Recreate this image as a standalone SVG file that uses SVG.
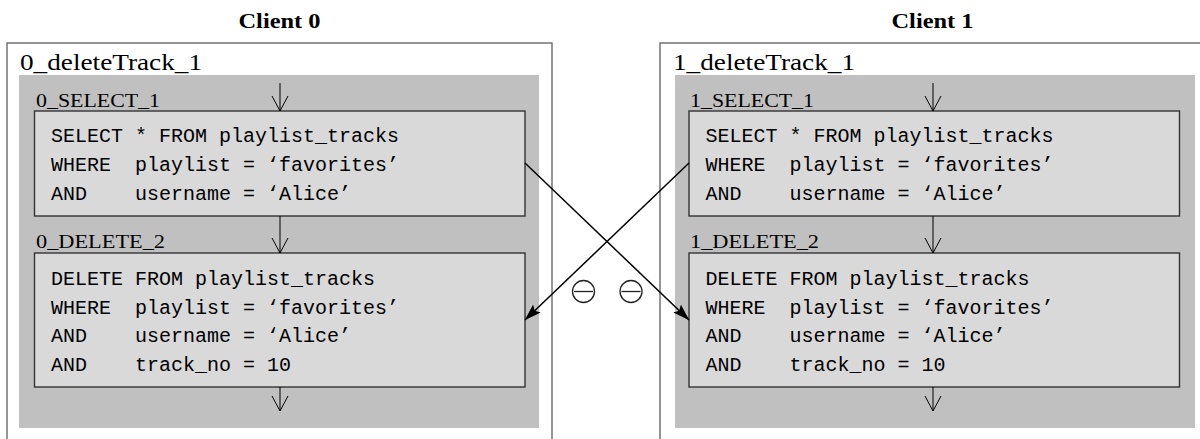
<svg xmlns="http://www.w3.org/2000/svg" width="1200" height="439" viewBox="0 0 1200 439">
  <style>
    .title { font-family: "Liberation Serif", serif; font-weight: bold; font-size: 20px; text-anchor: middle; fill: #000; }
    .frame { fill: #fff; stroke: #6a6a6a; stroke-width: 1.4; }
    .frame-label { font-family: "Liberation Serif", serif; font-size: 24px; fill: #000; }
    .lane { fill: #c0c0c0; stroke: none; }
    .step-label { font-family: "Liberation Serif", serif; font-size: 18px; fill: #000; }
    .box { fill: #d9d9d9; stroke: #333; stroke-width: 1.4; }
    .sql { font-family: "Liberation Mono", "DejaVu Sans Mono", monospace; font-size: 20px; fill: #000; white-space: pre; }
    .flow { stroke: #000; stroke-width: 1; fill: none; }
    .conflict { stroke: #000; stroke-width: 1.5; fill: none; }
    .ominus { fill: none; stroke: #222; stroke-width: 1.3; }
  </style>
  <defs>
    <!-- thin open "to" head for the control-flow arrows -->
    <marker id="open-arrow" viewBox="0 0 16 18" refX="15" refY="9" markerWidth="16" markerHeight="18" markerUnits="userSpaceOnUse" orient="auto">
      <path d="M0,1 L15,9 L0,17" fill="none" stroke="#000" stroke-width="1"/>
    </marker>
    <!-- filled head for the conflict edges -->
    <marker id="solid-arrow" viewBox="0 0 17 12" refX="16.5" refY="6" markerWidth="17" markerHeight="12" markerUnits="userSpaceOnUse" orient="auto">
      <path d="M0,0.5 L17,6 L0,11.5 L3,6 Z" fill="#000"/>
    </marker>
  </defs>

  <rect width="1200" height="439" fill="#fff"/>

  <!-- Client 0 -->
  <g id="client0">
    <text class="title" x="279.5" y="27.5" textLength="82" lengthAdjust="spacingAndGlyphs">Client 0</text>
    <rect class="frame" x="7" y="43" width="545" height="420"/>
    <text class="frame-label" x="20" y="70" textLength="182" lengthAdjust="spacingAndGlyphs">0_deleteTrack_1</text>
    <rect class="lane" x="19" y="75" width="520" height="353"/>
  </g>
  <g id="select0">
    <text class="step-label" x="36" y="106.5" textLength="124" lengthAdjust="spacingAndGlyphs">0_SELECT_1</text>
    <rect class="box" x="34.5" y="111" width="490.5" height="105"/>
    <text class="sql" x="51" y="142">SELECT * FROM playlist_tracks</text>
    <text class="sql" x="51" y="171">WHERE  playlist = ‘favorites’</text>
    <text class="sql" x="51" y="200">AND    username = ‘Alice’</text>
  </g>
  <g id="delete0">
    <text class="step-label" x="36" y="248" textLength="129" lengthAdjust="spacingAndGlyphs">0_DELETE_2</text>
    <rect class="box" x="34.5" y="253" width="490.5" height="134"/>
    <text class="sql" x="51" y="285">DELETE FROM playlist_tracks</text>
    <text class="sql" x="51" y="313.5">WHERE  playlist = ‘favorites’</text>
    <text class="sql" x="51" y="342">AND    username = ‘Alice’</text>
    <text class="sql" x="51" y="370.5">AND    track_no = 10</text>
  </g>

  <!-- Client 1 -->
  <g id="client1">
    <text class="title" x="932.5" y="27.5" textLength="82" lengthAdjust="spacingAndGlyphs">Client 1</text>
    <rect class="frame" x="660" y="43" width="545" height="420"/>
    <text class="frame-label" x="673" y="70" textLength="182" lengthAdjust="spacingAndGlyphs">1_deleteTrack_1</text>
    <rect class="lane" x="675" y="75" width="520" height="353"/>
  </g>
  <g id="select1">
    <text class="step-label" x="690" y="106.5" textLength="124" lengthAdjust="spacingAndGlyphs">1_SELECT_1</text>
    <rect class="box" x="689" y="111" width="490.5" height="105"/>
    <text class="sql" x="705.5" y="142">SELECT * FROM playlist_tracks</text>
    <text class="sql" x="705.5" y="171">WHERE  playlist = ‘favorites’</text>
    <text class="sql" x="705.5" y="200">AND    username = ‘Alice’</text>
  </g>
  <g id="delete1">
    <text class="step-label" x="690" y="248" textLength="129" lengthAdjust="spacingAndGlyphs">1_DELETE_2</text>
    <rect class="box" x="689" y="253" width="490.5" height="134"/>
    <text class="sql" x="705.5" y="285">DELETE FROM playlist_tracks</text>
    <text class="sql" x="705.5" y="313.5">WHERE  playlist = ‘favorites’</text>
    <text class="sql" x="705.5" y="342">AND    username = ‘Alice’</text>
    <text class="sql" x="705.5" y="370.5">AND    track_no = 10</text>
  </g>

  <!-- Connectors -->
  <g id="connectors">
    <line class="flow" x1="280" y1="83" x2="280" y2="111" marker-end="url(#open-arrow)"/>
    <line class="flow" x1="280" y1="216" x2="280" y2="253" marker-end="url(#open-arrow)"/>
    <line class="flow" x1="280" y1="387" x2="280" y2="411" marker-end="url(#open-arrow)"/>
    <line class="flow" x1="933" y1="83" x2="933" y2="111" marker-end="url(#open-arrow)"/>
    <line class="flow" x1="933" y1="216" x2="933" y2="253" marker-end="url(#open-arrow)"/>
    <line class="flow" x1="933" y1="387" x2="933" y2="411" marker-end="url(#open-arrow)"/>
    <line class="conflict" x1="525" y1="163" x2="689" y2="320" marker-end="url(#solid-arrow)"/>
    <line class="conflict" x1="689" y1="163" x2="525" y2="320" marker-end="url(#solid-arrow)"/>
  </g>

  <!-- conflict markers (ominus) -->
  <g id="conflict-marks">
    <circle class="ominus" cx="583.5" cy="291.5" r="11"/>
    <line class="ominus" x1="574" y1="291.5" x2="593" y2="291.5"/>
    <circle class="ominus" cx="631" cy="291.5" r="11"/>
    <line class="ominus" x1="621.5" y1="291.5" x2="640.5" y2="291.5"/>
  </g>
</svg>
